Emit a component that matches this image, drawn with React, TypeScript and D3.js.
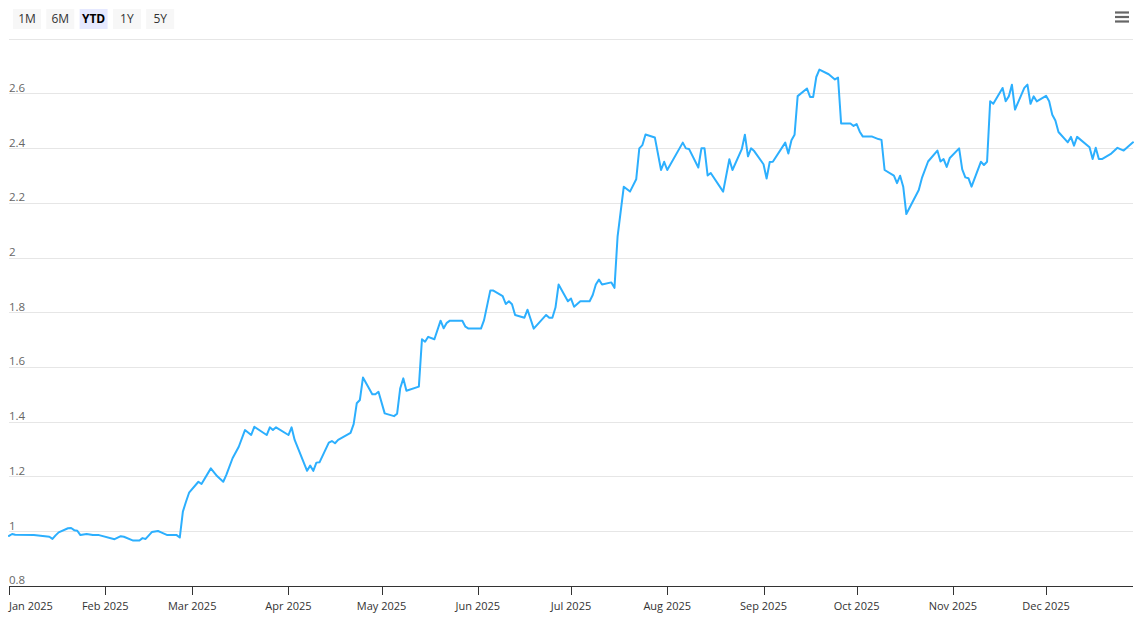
import React from 'react';
import * as d3 from 'd3';

// daily closes (YTD)
const dates = [
  '2025-01-01', '2025-01-02', '2025-01-03', '2025-01-09', '2025-01-14', '2025-01-15', '2025-01-16', '2025-01-17',
  '2025-01-20', '2025-01-21', '2025-01-22', '2025-01-23', '2025-01-24', '2025-01-26', '2025-01-28', '2025-01-30',
  '2025-02-04', '2025-02-06', '2025-02-07', '2025-02-10', '2025-02-12', '2025-02-13', '2025-02-14', '2025-02-16',
  '2025-02-18', '2025-02-19', '2025-02-21', '2025-02-24', '2025-02-25', '2025-02-26', '2025-02-27', '2025-02-28',
  '2025-03-03', '2025-03-04', '2025-03-07', '2025-03-09', '2025-03-11', '2025-03-12', '2025-03-14', '2025-03-16',
  '2025-03-18', '2025-03-20', '2025-03-21', '2025-03-25', '2025-03-26', '2025-03-27', '2025-03-28',
  '2025-04-01', '2025-04-02', '2025-04-03', '2025-04-07', '2025-04-08', '2025-04-09', '2025-04-10', '2025-04-11',
  '2025-04-14', '2025-04-15', '2025-04-16', '2025-04-17', '2025-04-21', '2025-04-22', '2025-04-23', '2025-04-24',
  '2025-04-25', '2025-04-28', '2025-04-29', '2025-04-30',
  '2025-05-02', '2025-05-05', '2025-05-06', '2025-05-07', '2025-05-08', '2025-05-09', '2025-05-13', '2025-05-14',
  '2025-05-15', '2025-05-16', '2025-05-18', '2025-05-20', '2025-05-21', '2025-05-22', '2025-05-23', '2025-05-27',
  '2025-05-28', '2025-05-29',
  '2025-06-02', '2025-06-03', '2025-06-05', '2025-06-06', '2025-06-09', '2025-06-10', '2025-06-11', '2025-06-12',
  '2025-06-13', '2025-06-16', '2025-06-17', '2025-06-19', '2025-06-23', '2025-06-24', '2025-06-25', '2025-06-26',
  '2025-06-27', '2025-06-30',
  '2025-07-01', '2025-07-02', '2025-07-04', '2025-07-07', '2025-07-08', '2025-07-09', '2025-07-10', '2025-07-11',
  '2025-07-14', '2025-07-15', '2025-07-16', '2025-07-18', '2025-07-20', '2025-07-22', '2025-07-23', '2025-07-24',
  '2025-07-25', '2025-07-28', '2025-07-30', '2025-07-31',
  '2025-08-01', '2025-08-06', '2025-08-07', '2025-08-08', '2025-08-11', '2025-08-12', '2025-08-13', '2025-08-14',
  '2025-08-15', '2025-08-19', '2025-08-21', '2025-08-22', '2025-08-25', '2025-08-26', '2025-08-27', '2025-08-28',
  '2025-08-29',
  '2025-09-01', '2025-09-02', '2025-09-03', '2025-09-04', '2025-09-08', '2025-09-09', '2025-09-10', '2025-09-11',
  '2025-09-12', '2025-09-15', '2025-09-16', '2025-09-17', '2025-09-18', '2025-09-19', '2025-09-22', '2025-09-24',
  '2025-09-25', '2025-09-26', '2025-09-29', '2025-09-30',
  '2025-10-01', '2025-10-02', '2025-10-03', '2025-10-06', '2025-10-08', '2025-10-09', '2025-10-10', '2025-10-13',
  '2025-10-14', '2025-10-15', '2025-10-16', '2025-10-17', '2025-10-21', '2025-10-22', '2025-10-24', '2025-10-27',
  '2025-10-28', '2025-10-29', '2025-10-30', '2025-10-31',
  '2025-11-03', '2025-11-04', '2025-11-05', '2025-11-06', '2025-11-07', '2025-11-10', '2025-11-11', '2025-11-12',
  '2025-11-13', '2025-11-14', '2025-11-17', '2025-11-18', '2025-11-19', '2025-11-20', '2025-11-21', '2025-11-24',
  '2025-11-25', '2025-11-26', '2025-11-27', '2025-11-28',
  '2025-12-01', '2025-12-02', '2025-12-03', '2025-12-04', '2025-12-05', '2025-12-08', '2025-12-09', '2025-12-10',
  '2025-12-11', '2025-12-15', '2025-12-16', '2025-12-17', '2025-12-18', '2025-12-19', '2025-12-22', '2025-12-24',
  '2025-12-26', '2025-12-29',
];

const values = [
  0.982, 0.989, 0.986, 0.985, 0.979, 0.971, 0.984, 0.995,
  1.010, 1.011, 1.003, 1.001, 0.985, 0.989, 0.985, 0.985,
  0.970, 0.981, 0.979, 0.965, 0.965, 0.974, 0.971, 0.996,
  1.000, 0.995, 0.985, 0.985, 0.976, 1.071, 1.107, 1.140,
  1.180, 1.172, 1.229, 1.201, 1.180, 1.205, 1.266, 1.308,
  1.369, 1.351, 1.381, 1.351, 1.379, 1.369, 1.379,
  1.351, 1.379, 1.333, 1.220, 1.239, 1.220, 1.250, 1.251,
  1.323, 1.329, 1.321, 1.333, 1.359, 1.391, 1.467, 1.479,
  1.561, 1.500, 1.500, 1.509,
  1.430, 1.420, 1.429, 1.522, 1.558, 1.513, 1.528, 1.701,
  1.692, 1.710, 1.701, 1.769, 1.741, 1.761, 1.769, 1.769,
  1.747, 1.740,
  1.740, 1.771, 1.879, 1.879, 1.859, 1.830, 1.840, 1.829,
  1.790, 1.780, 1.809, 1.740, 1.790, 1.780, 1.780, 1.817,
  1.901, 1.840,
  1.850, 1.820, 1.840, 1.840, 1.863, 1.901, 1.919, 1.901,
  1.909, 1.889, 2.076, 2.259, 2.241, 2.286, 2.399, 2.411,
  2.450, 2.439, 2.320, 2.350,
  2.320, 2.420, 2.399, 2.397, 2.329, 2.399, 2.399, 2.300,
  2.309, 2.241, 2.359, 2.320, 2.396, 2.449, 2.370, 2.399,
  2.389,
  2.341, 2.289, 2.349, 2.350, 2.420, 2.380, 2.429, 2.449,
  2.590, 2.618, 2.587, 2.587, 2.660, 2.687, 2.670, 2.651,
  2.658, 2.490, 2.490, 2.481,
  2.488, 2.460, 2.442, 2.442, 2.433, 2.430, 2.320, 2.299,
  2.272, 2.299, 2.259, 2.159, 2.247, 2.290, 2.351, 2.391,
  2.351, 2.360, 2.331, 2.364,
  2.399, 2.322, 2.293, 2.290, 2.259, 2.350, 2.338, 2.350,
  2.571, 2.562, 2.620, 2.571, 2.589, 2.632, 2.541, 2.620,
  2.632, 2.562, 2.589, 2.571,
  2.591, 2.571, 2.522, 2.501, 2.459, 2.421, 2.441, 2.409,
  2.441, 2.403, 2.360, 2.401, 2.360, 2.360, 2.380, 2.401,
  2.391, 2.421,
];

const yTicks = [0.8, 1, 1.2, 1.4, 1.6, 1.8, 2, 2.2, 2.4, 2.6, 2.8];
const rangeButtons = ['1M', '6M', 'YTD', '1Y', '5Y'];
const selectedRange = 'YTD';

const W = 1139;
const H = 625;
const FONT = '"Open Sans", sans-serif';

const parse = d3.timeParse('%Y-%m-%d');

export default function App() {
  const points = dates.map((d, i) => ({ date: parse(d) as Date, value: values[i] }));

  const x = d3
    .scaleTime()
    .domain([parse('2025-01-01') as Date, parse('2025-12-29') as Date])
    .range([9, 1133]);
  const y = d3.scaleLinear().domain([0.8, 2.8]).range([585.7, 38.7]);

  const line = d3
    .line<{ date: Date; value: number }>()
    .x((d) => x(d.date))
    .y((d) => y(d.value));

  const months = d3.timeMonth.range(parse('2025-01-01') as Date, parse('2025-12-30') as Date);
  const fmt = d3.timeFormat('%b %Y');

  return (
    <div>
      <style>{'body{margin:0}'}</style>
      <svg width={W} height={H} style={{ display: 'block', fontFamily: FONT }}>
        <rect width={W} height={H} fill="#fff" />

        {rangeButtons.map((b, i) => {
          const bx = 13 + i * 33.3;
          const sel = b === selectedRange;
          return (
            <g key={b}>
              <rect x={bx} y={9} width={28} height={20} fill={sel ? '#e6e9ff' : '#f7f7f7'} />
              <text
                x={bx + 14}
                y={23}
                textAnchor="middle"
                fontSize={12}
                fontWeight={sel ? 700 : 400}
                fill={sel ? '#000' : '#333'}
              >
                {b}
              </text>
            </g>
          );
        })}

        <g stroke="#666" strokeWidth={2.2} strokeLinecap="butt">
          {[12.5, 17, 21.5].map((ly) => (
            <line key={ly} x1={1115} x2={1129} y1={ly} y2={ly} />
          ))}
        </g>

        {yTicks.map((t) => (
          <g key={t}>
            {t > 0.8 && (
              <line x1={9} x2={1133} y1={Math.round(y(t)) + 0.5} y2={Math.round(y(t)) + 0.5} stroke="#e6e6e6" />
            )}
            {t < 2.8 && (
              <text x={9} y={y(t) - 1.5} fontSize={11.5} fill="#666">
                {d3.format('~g')(t)}
              </text>
            )}
          </g>
        ))}

        <line x1={9} x2={1133} y1={586.5} y2={586.5} stroke="#333" />
        {months.map((m, i) => (
          <g key={i}>
            <line x1={Math.round(x(m)) + 0.5} x2={Math.round(x(m)) + 0.5} y1={586} y2={595} stroke="#333" />
            <text
              x={x(m)}
              y={610}
              fontSize={11}
              fill="#333"
              textAnchor={i === 0 ? 'start' : 'middle'}
            >
              {fmt(m)}
            </text>
          </g>
        ))}

        <path
          d={line(points) || ''}
          fill="none"
          stroke="#2caffe"
          strokeWidth={2}
          strokeLinejoin="round"
          strokeLinecap="round"
        />
      </svg>
    </div>
  );
}
